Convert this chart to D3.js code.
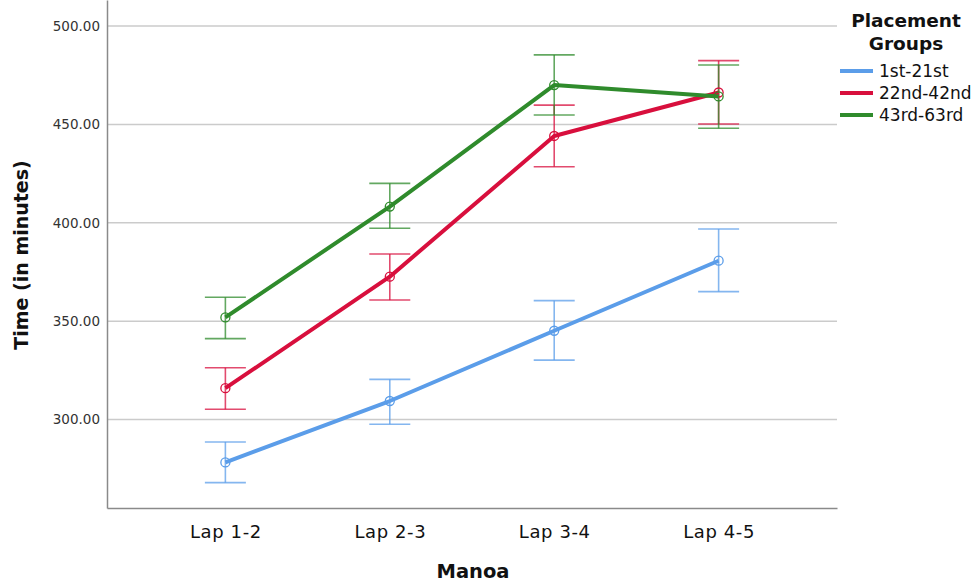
<!DOCTYPE html>
<html>
<head>
<meta charset="utf-8">
<script src="https://cdn.jsdelivr.net/npm/d3@7"></script>
<style>
  body { margin: 0; background: #fff; }
  text { font-family: "DejaVu Sans", "Noto Sans", sans-serif; }
</style>
</head>
<body>
<svg id="chart" width="976" height="588"></svg>
<script>
// values
let laps = ["Lap 1-2", "Lap 2-3", "Lap 3-4", "Lap 4-5"];
let groups = ["1st-21st", "22nd-42nd", "43rd-63rd"];
let colors = ["#5b9de9", "#d80f3d", "#2f8b2c"];

let means = [
    [278.2, 309.4, 345.1, 380.7],
    [315.9, 372.6, 444.1, 466.2],
    [351.9, 408.2, 470.0, 464.2]
];
let lower = [
    [267.9, 297.6, 330.2, 365.0],
    [305.2, 360.7, 428.5, 450.2],
    [341.1, 397.2, 454.8, 448.0]
];
let upper = [
    [288.6, 320.4, 360.4, 396.8],
    [326.3, 384.1, 459.8, 482.4],
    [362.1, 420.0, 485.3, 480.2]
];
let yTicks = [300, 350, 400, 450, 500];

let svg = d3.select("#chart");
let plotLeft = 107, plotRight = 837, plotTop = 0, plotBottom = 508;

let x = d3.scalePoint().domain(laps).range([plotLeft, plotRight]).padding(0.72);
let y = d3.scaleLinear().domain([300, 500]).range([419.5, 26]);
y.domain([y.invert(plotBottom), y.invert(plotTop)]).range([plotBottom, plotTop]);

// gridlines
svg.append("g")
    .selectAll("line")
    .data(yTicks).enter().append("line")
    .attr("x1", plotLeft).attr("x2", plotRight)
    .attr("y1", d => y(d)).attr("y2", d => y(d))
    .attr("stroke", "#cbcbcb")
    .attr("stroke-width", 1.5);

// axes
let yAxis = svg.append("g")
    .attr("transform", "translate(" + plotLeft + ",0)")
    .call(d3.axisLeft(y).tickValues(yTicks).tickFormat(d3.format(".2f")).tickSize(0).tickPadding(7));
yAxis.select(".domain").attr("stroke", "#8a8a8a").attr("stroke-width", 1.5);
yAxis.selectAll("text").attr("font-size", 13.5).attr("fill", "#333");

let xAxis = svg.append("g")
    .attr("transform", "translate(0," + plotBottom + ")")
    .call(d3.axisBottom(x).tickSize(0).tickPadding(17));
xAxis.select(".domain").attr("stroke", "#8a8a8a").attr("stroke-width", 1.5);
xAxis.selectAll("text").attr("font-size", 18).attr("fill", "#111").attr("letter-spacing", 0.6);

svg.append("text")
    .attr("transform", "translate(28,255) rotate(-90)")
    .attr("text-anchor", "middle")
    .attr("font-size", 19).attr("font-weight", "bold").attr("fill", "#111")
    .text("Time (in minutes)");

svg.append("text")
    .attr("x", 473).attr("y", 578)
    .attr("text-anchor", "middle")
    .attr("font-size", 19.5).attr("font-weight", "bold").attr("fill", "#111")
    .text("Manoa");

// error bars
let capHalf = 20.5;
groups.forEach(function(g, gi) {
    let eb = svg.append("g")
        .attr("stroke", colors[gi])
        .attr("stroke-opacity", 0.75)
        .attr("stroke-width", 1.6)
        .attr("fill", "none");
    let rows = laps.map((l, i) => ({lap: l, lo: lower[gi][i], hi: upper[gi][i]}));
    eb.selectAll(".stem").data(rows).enter().append("line")
        .attr("x1", d => x(d.lap)).attr("x2", d => x(d.lap))
        .attr("y1", d => y(d.lo)).attr("y2", d => y(d.hi));
    eb.selectAll(".capHi").data(rows).enter().append("line")
        .attr("x1", d => x(d.lap) - capHalf).attr("x2", d => x(d.lap) + capHalf)
        .attr("y1", d => y(d.hi)).attr("y2", d => y(d.hi));
    eb.selectAll(".capLo").data(rows).enter().append("line")
        .attr("x1", d => x(d.lap) - capHalf).attr("x2", d => x(d.lap) + capHalf)
        .attr("y1", d => y(d.lo)).attr("y2", d => y(d.lo));
});

// mean lines and markers
let line = d3.line().x(d => x(d.lap)).y(d => y(d.v));
groups.forEach(function(g, gi) {
    let pts = laps.map((l, i) => ({lap: l, v: means[gi][i]}));
    svg.append("path")
        .datum(pts)
        .attr("d", line)
        .attr("fill", "none")
        .attr("stroke", colors[gi])
        .attr("stroke-width", 4)
        .attr("stroke-linejoin", "round");
    svg.append("g").selectAll("circle")
        .data(pts).enter().append("circle")
        .attr("cx", d => x(d.lap)).attr("cy", d => y(d.v))
        .attr("r", 4.5)
        .attr("fill", "none")
        .attr("stroke", colors[gi])
        .attr("stroke-width", 1.3);
});

// legend
let lg = svg.append("g");
lg.append("text").attr("x", 906).attr("y", 27)
    .attr("text-anchor", "middle").attr("font-size", 18.5).attr("font-weight", "bold").attr("fill", "#111")
    .text("Placement");
lg.append("text").attr("x", 906).attr("y", 50)
    .attr("text-anchor", "middle").attr("font-size", 18.5).attr("font-weight", "bold").attr("fill", "#111")
    .text("Groups");
let items = lg.selectAll(".item").data(groups).enter().append("g")
    .attr("transform", (d, i) => "translate(840," + (71 + i * 22) + ")");
items.append("line")
    .attr("x1", 0).attr("x2", 33)
    .attr("stroke", (d, i) => colors[i])
    .attr("stroke-width", 4);
items.append("text")
    .attr("x", 39).attr("y", 6)
    .attr("font-size", 17).attr("fill", "#111")
    .text(d => d);
</script>
</body>
</html>
